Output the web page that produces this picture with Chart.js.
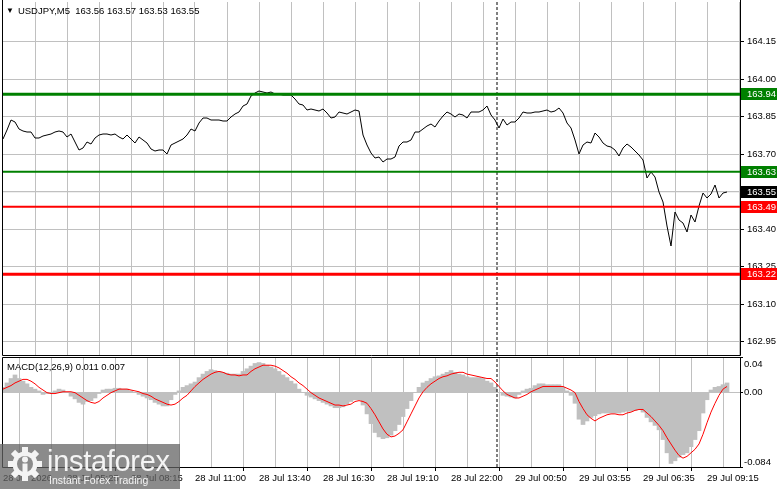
<!DOCTYPE html>
<html>
<head>
<meta charset="utf-8">
<title>USDJPY M5</title>
<script src="https://cdn.jsdelivr.net/npm/chart.js@4.4.1/dist/chart.umd.min.js"></script>
<style>
  html, body { margin: 0; padding: 0; background: #fff; }
  #wrap { position: relative; width: 781px; height: 489px; overflow: hidden; font-family: "Liberation Sans", Arial, sans-serif; }
  #priceCanvas { position: absolute; left: 0; top: 0; }
  #macdCanvas { position: absolute; left: 0; top: 356px; }
  #title { position: absolute; left: 6px; top: 5px; font-size: 9.5px; white-space: pre; color: #000; }
  #title .tri { font-size: 8px; margin-right: 4px; position: relative; top: -1px; }
  #macdLabel { position: absolute; left: 7px; top: 361px; font-size: 9.5px; white-space: pre; color: #000; }
  #logo { position: absolute; left: 0; top: 444px; width: 180px; height: 45px; background: rgba(100, 100, 100, 0.75); color: #f4f4f4; }
  #logo svg { position: absolute; left: 7px; top: 2px; }
  #logo .big { position: absolute; left: 47px; top: 1px; font-size: 29px; letter-spacing: -0.3px; }
  #logo .small { position: absolute; left: 49px; top: 30px; font-size: 10.5px; }
</style>
</head>
<body>
<div id="wrap">
  <canvas id="priceCanvas" width="781" height="357"></canvas>
  <canvas id="macdCanvas" width="781" height="133"></canvas>
  <div id="title"><span class="tri">▼</span>USDJPY,M5  163.56 163.57 163.53 163.55</div>
  <div id="macdLabel">MACD(12,26,9) 0.011 0.007</div>
  <div id="logo">
    <svg width="36" height="36" viewBox="0 0 36 36">
      <g fill="#f4f4f4">
        <circle cx="18" cy="18" r="12.5"/>
        <rect x="15" y="1" width="6" height="7"/>
        <rect x="15" y="1" width="6" height="7" transform="rotate(45 18 18)"/>
        <rect x="15" y="1" width="6" height="7" transform="rotate(90 18 18)"/>
        <rect x="15" y="1" width="6" height="7" transform="rotate(135 18 18)"/>
        <rect x="15" y="1" width="6" height="7" transform="rotate(180 18 18)"/>
        <rect x="15" y="1" width="6" height="7" transform="rotate(225 18 18)"/>
        <rect x="15" y="1" width="6" height="7" transform="rotate(270 18 18)"/>
        <rect x="15" y="1" width="6" height="7" transform="rotate(315 18 18)"/>
      </g>
      <circle cx="18" cy="18" r="8" fill="#8b8b8b"/>
      <circle cx="18" cy="13.5" r="3" fill="#f4f4f4"/>
      <rect x="15.5" y="17.5" width="5" height="13" fill="#f4f4f4"/>
    </svg>
    <span class="big">instaforex</span>
    <span class="small">Instant Forex Trading</span>
  </div>
</div>
<script>
// M5 closes, one value every 2 bars
const closes = [
  163.761, 163.797, 163.837, 163.829, 163.801, 163.793, 163.789, 163.789, 163.765, 163.765,
  163.773, 163.777, 163.781, 163.789, 163.793, 163.789, 163.769, 163.781, 163.749, 163.717,
  163.725, 163.749, 163.741, 163.765, 163.777, 163.781, 163.781, 163.777, 163.781, 163.769,
  163.761, 163.777, 163.761, 163.745, 163.769, 163.757, 163.745, 163.721, 163.713, 163.717,
  163.717, 163.701, 163.737, 163.745, 163.753, 163.761, 163.777, 163.801, 163.793, 163.825,
  163.845, 163.845, 163.837, 163.837, 163.837, 163.833, 163.833, 163.849, 163.861, 163.869,
  163.893, 163.901, 163.933, 163.945, 163.953, 163.949, 163.945, 163.949, 163.941, 163.941,
  163.937, 163.937, 163.937, 163.921, 163.901, 163.897, 163.877, 163.881, 163.877, 163.873,
  163.881, 163.865, 163.845, 163.849, 163.869, 163.865, 163.861, 163.869, 163.877, 163.873,
  163.777, 163.737, 163.705, 163.685, 163.689, 163.669, 163.681, 163.681, 163.689, 163.733,
  163.749, 163.749, 163.757, 163.789, 163.789, 163.801, 163.813, 163.821, 163.809, 163.833,
  163.853, 163.869, 163.861, 163.849, 163.861, 163.857, 163.845, 163.869, 163.869, 163.869,
  163.877, 163.893, 163.857, 163.837, 163.805, 163.841, 163.817, 163.829, 163.829, 163.845,
  163.869, 163.865, 163.865, 163.869, 163.869, 163.873, 163.877, 163.869, 163.873, 163.885,
  163.865, 163.825, 163.805, 163.757, 163.701, 163.737, 163.749, 163.745, 163.785, 163.769,
  163.745, 163.733, 163.729, 163.717, 163.693, 163.725, 163.741, 163.729, 163.713, 163.697,
  163.677, 163.605, 163.629, 163.609, 163.549, 163.509, 163.413, 163.333, 163.469, 163.437,
  163.425, 163.389, 163.457, 163.429, 163.493, 163.545, 163.525, 163.541, 163.577, 163.525,
  163.545, 163.549
];

const macdMain = [
  0.006, 0.011, 0.016, 0.020, 0.016, 0.013, 0.010, 0.006, 0.004, 0.002,
  -0.002, -0.001, 0.000, 0.002, 0.004, 0.003, 0.000, -0.004, -0.007, -0.011,
  -0.013, -0.010, -0.009, -0.006, -0.001, 0.003, 0.004, 0.004, 0.005, 0.005,
  0.004, 0.004, 0.002, 0.000, -0.002, -0.004, -0.006, -0.008, -0.011, -0.013,
  -0.015, -0.015, -0.008, -0.002, 0.002, 0.006, 0.008, 0.010, 0.012, 0.017,
  0.021, 0.024, 0.026, 0.025, 0.024, 0.023, 0.022, 0.021, 0.021, 0.021,
  0.024, 0.027, 0.030, 0.033, 0.034, 0.033, 0.031, 0.029, 0.027, 0.024,
  0.020, 0.017, 0.013, 0.010, 0.004, 0.000, -0.003, -0.005, -0.007, -0.009,
  -0.011, -0.013, -0.015, -0.017, -0.017, -0.016, -0.013, -0.010, -0.008, -0.008,
  -0.014, -0.024, -0.035, -0.045, -0.050, -0.052, -0.051, -0.048, -0.043, -0.036,
  -0.027, -0.018, -0.009, 0.000, 0.006, 0.011, 0.013, 0.016, 0.018, 0.019,
  0.021, 0.023, 0.025, 0.023, 0.021, 0.020, 0.018, 0.017, 0.017, 0.017,
  0.016, 0.013, 0.011, 0.006, 0.000, -0.003, -0.004, -0.005, -0.006, -0.002,
  0.002, 0.004, 0.005, 0.008, 0.010, 0.010, 0.009, 0.009, 0.009, 0.009,
  0.006, 0.002, -0.003, -0.012, -0.030, -0.036, -0.032, -0.028, -0.026, -0.024,
  -0.023, -0.023, -0.023, -0.023, -0.023, -0.022, -0.021, -0.021, -0.020, -0.019,
  -0.022, -0.028, -0.033, -0.037, -0.042, -0.053, -0.068, -0.080, -0.077, -0.073,
  -0.070, -0.068, -0.061, -0.053, -0.043, -0.023, -0.008, 0.003, 0.006, 0.007,
  0.009, 0.011
];

const macdSignal = [
  0.004, 0.006, 0.008, 0.011, 0.013, 0.015, 0.015, 0.013, 0.010, 0.006,
  0.003, 0.000, -0.001, -0.001, 0.000, 0.001, 0.001, 0.001, 0.000, -0.003,
  -0.006, -0.009, -0.011, -0.012, -0.010, -0.006, -0.003, 0.000, 0.002, 0.004,
  0.004, 0.004, 0.003, 0.002, 0.001, -0.001, -0.002, -0.004, -0.007, -0.009,
  -0.011, -0.013, -0.014, -0.013, -0.010, -0.006, -0.003, 0.002, 0.007, 0.011,
  0.015, 0.018, 0.021, 0.023, 0.024, 0.023, 0.021, 0.020, 0.020, 0.019,
  0.020, 0.020, 0.024, 0.027, 0.029, 0.031, 0.031, 0.031, 0.030, 0.028,
  0.025, 0.022, 0.018, 0.015, 0.011, 0.008, 0.004, 0.000, -0.003, -0.006,
  -0.008, -0.010, -0.012, -0.014, -0.014, -0.015, -0.014, -0.013, -0.010, -0.009,
  -0.010, -0.012, -0.018, -0.025, -0.033, -0.041, -0.047, -0.050, -0.049, -0.046,
  -0.042, -0.033, -0.024, -0.015, -0.006, 0.001, 0.006, 0.010, 0.013, 0.016,
  0.018, 0.019, 0.021, 0.022, 0.023, 0.023, 0.021, 0.020, 0.019, 0.018,
  0.017, 0.016, 0.016, 0.012, 0.007, 0.002, -0.002, -0.004, -0.006, -0.006,
  -0.004, -0.002, 0.001, 0.003, 0.005, 0.007, 0.007, 0.007, 0.007, 0.007,
  0.007, 0.005, 0.003, 0.000, -0.010, -0.018, -0.025, -0.029, -0.032, -0.029,
  -0.027, -0.025, -0.024, -0.024, -0.025, -0.025, -0.023, -0.022, -0.020, -0.019,
  -0.019, -0.023, -0.027, -0.032, -0.037, -0.043, -0.051, -0.058, -0.065, -0.071,
  -0.074, -0.072, -0.068, -0.064, -0.058, -0.047, -0.034, -0.022, -0.012, -0.003,
  0.004, 0.007
];

const timeLabels = [
  "28 Jul 2026", "28 Jul 05:25", "28 Jul 08:15", "28 Jul 11:00", "28 Jul 13:40", "28 Jul 16:30",
  "28 Jul 19:10", "28 Jul 22:00", "29 Jul 00:50", "29 Jul 03:55", "29 Jul 06:35", "29 Jul 09:15"
];
const priceTicks = [162.95, 163.10, 163.25, 163.40, 163.55, 163.70, 163.85, 164.00, 164.15];
const macdTicks = [0.04, 0.00, -0.084];
const macdTickLabels = ["0.04", "0.00", "-0.084"];
const levelValues = [163.94, 163.63, 163.49, 163.22];
const currentPrice = 163.55;
const separatorBar = 247;

// layout / style
const BAR_STEP = 2;
const TICK_STEP = 16;
const X_MIN = -0.5, X_MAX = 368.5;
const PRICE_MIN = 162.897, PRICE_MAX = 164.309;
const MACD_MIN = -0.084, MACD_MAX = 0.0403;
const GRID = "#c0c0c0";
const DASH = [4, 3];
const FONT = { family: "Liberation Sans", size: 9.5 };
const levelColors = ["#008000", "#008000", "#ff0000", "#ff0000"];
const levelWidths = [3, 2, 2, 3];
const NONE = "rgba(0,0,0,0)";

Chart.defaults.font.family = FONT.family;
Chart.defaults.font.size = FONT.size;
Chart.defaults.color = "#000";

function barTicks(scale) {
  scale.ticks = [];
  for (let b = 0; b <= X_MAX; b += TICK_STEP) scale.ticks.push({ value: b });
}

// fixed axis sizes, no extra label padding around the plot
function fixSize(w, h) {
  return s => {
    if (w !== null) s.width = w;
    if (h !== null) s.height = h;
    s.paddingTop = 0; s.paddingBottom = 0; s.paddingLeft = 0; s.paddingRight = 0;
  };
}

const framePlugin = {
  id: "frame",
  afterDraw(chart, args, opts) {
    const { ctx, chartArea: a } = chart;
    const l = Math.round(a.left) + 0.5, r = Math.round(a.right) + 0.5;
    const t = Math.round(a.top) + 0.5, b = Math.round(a.bottom) + 0.5;
    ctx.save();
    ctx.strokeStyle = "#000";
    ctx.lineWidth = 1;
    ctx.beginPath();
    ctx.moveTo(l, opts.top ? t : 0);
    ctx.lineTo(l, b);
    ctx.lineTo(r, b);
    ctx.lineTo(r, opts.top ? t : 0);
    if (opts.top) ctx.lineTo(l, t);
    ctx.stroke();
    ctx.restore();
  }
};

const priceBoxPlugin = {
  id: "priceBoxes",
  afterDraw(chart) {
    const { ctx, chartArea: a } = chart;
    const y = chart.scales.y;
    const vals = levelValues.concat([currentPrice]);
    const cols = levelColors.concat(["#000"]);
    ctx.save();
    ctx.font = FONT.size + "px \"" + FONT.family + "\"";
    ctx.textBaseline = "middle";
    vals.forEach((v, i) => {
      const py = Math.round(y.getPixelForValue(v));
      ctx.fillStyle = cols[i];
      ctx.fillRect(a.right + 1, py - 6, 36, 12);
      ctx.fillStyle = "#fff";
      ctx.fillText(v.toFixed(2), a.right + 7, py);
    });
    ctx.restore();
  }
};

const macdAxisPlugin = {
  id: "macdAxis",
  afterDraw(chart) {
    const { ctx, chartArea: a } = chart;
    const y = chart.scales.y;
    ctx.save();
    ctx.font = FONT.size + "px \"" + FONT.family + "\"";
    ctx.textBaseline = "middle";
    ctx.fillStyle = "#000";
    macdTicks.forEach((v, i) => {
      let py = y.getPixelForValue(v);
      py = Math.min(Math.max(py, a.top + 7), a.bottom - 5);
      ctx.fillText(macdTickLabels[i], a.right + 4, py);
    });
    ctx.restore();
  }
};

const xs = closes.map((_, i) => i * BAR_STEP);
const flat = v => [{ x: X_MIN, y: v }, { x: X_MAX, y: v }];

const priceDatasets = levelValues.map((v, i) => ({
  data: flat(v),
  borderColor: levelColors[i],
  borderWidth: levelWidths[i],
  pointRadius: 0,
  order: 0
}));
priceDatasets.push({
  data: closes.map((v, i) => ({ x: xs[i], y: v })),
  borderColor: "#000",
  borderWidth: 1,
  pointRadius: 0,
  tension: 0,
  order: 1
});
priceDatasets.push({
  data: flat(currentPrice),
  borderColor: GRID,
  borderWidth: 1,
  pointRadius: 0,
  order: 2
});
priceDatasets.push({
  data: [{ x: separatorBar, y: PRICE_MIN }, { x: separatorBar, y: PRICE_MAX }],
  borderColor: "#000",
  borderWidth: 1,
  borderDash: [3, 2],
  pointRadius: 0,
  order: 3
});

new Chart(document.getElementById("priceCanvas"), {
  type: "line",
  data: { datasets: priceDatasets },
  options: {
    responsive: false,
    devicePixelRatio: 1,
    animation: false,
    events: [],
    layout: { padding: { left: 2, top: 2, right: 0, bottom: 2 } },
    plugins: { legend: { display: false }, tooltip: { enabled: false }, frame: { top: false } },
    scales: {
      x: {
        type: "linear",
        min: X_MIN,
        max: X_MAX,
        afterBuildTicks: barTicks,
        afterFit: fixSize(null, 0),
        ticks: { display: false },
        border: { display: false },
        grid: {
          drawTicks: false,
          color: c => (c.tick && c.tick.value === 0 ? NONE : GRID),
          borderDash: DASH
        }
      },
      y: {
        position: "right",
        min: PRICE_MIN,
        max: PRICE_MAX,
        afterBuildTicks: s => { s.ticks = priceTicks.map(v => ({ value: v })); },
        afterFit: fixSize(41, null),
        ticks: { padding: 3, callback: v => v.toFixed(2) },
        border: { display: false },
        grid: {
          color: GRID,
          borderDash: DASH,
          tickLength: 4,
          tickColor: "#000",
          tickBorderDash: []
        }
      }
    }
  },
  plugins: [framePlugin, priceBoxPlugin]
});

new Chart(document.getElementById("macdCanvas"), {
  type: "bar",
  data: {
    datasets: [
      {
        type: "line",
        data: macdSignal.map((v, i) => ({ x: xs[i], y: v })),
        borderColor: "#ff0000",
        borderWidth: 1,
        pointRadius: 0,
        tension: 0,
        order: 0
      },
      {
        type: "line",
        data: [{ x: separatorBar, y: MACD_MIN }, { x: separatorBar, y: MACD_MAX }],
        borderColor: "#000",
        borderWidth: 1,
        borderDash: [3, 2],
        pointRadius: 0,
        order: 1
      },
      {
        type: "bar",
        data: macdMain.map((v, i) => ({ x: xs[i], y: v })),
        backgroundColor: "#c0c0c0",
        borderWidth: 0,
        barPercentage: 1,
        categoryPercentage: 1,
        order: 2
      }
    ]
  },
  options: {
    responsive: false,
    devicePixelRatio: 1,
    animation: false,
    events: [],
    layout: { padding: { left: 2, top: 1, right: 0, bottom: 0 } },
    plugins: { legend: { display: false }, tooltip: { enabled: false }, frame: { top: true } },
    scales: {
      x: {
        type: "linear",
        offset: false,
        min: X_MIN,
        max: X_MAX,
        afterBuildTicks: barTicks,
        afterFit: fixSize(null, 22),
        ticks: {
          autoSkip: false,
          maxRotation: 0,
          minRotation: 0,
          align: "start",
          padding: 2,
          callback: (v, i) => (i % 2 === 0 ? (timeLabels[i / 2] || "") : "")
        },
        border: { display: false },
        grid: {
          color: c => (c.tick && c.tick.value === 0 ? NONE : GRID),
          borderDash: DASH,
          tickLength: 4,
          tickColor: c => (c.index % 2 === 0 ? "#000" : NONE),
          tickBorderDash: []
        }
      },
      y: {
        position: "right",
        min: MACD_MIN,
        max: MACD_MAX,
        afterBuildTicks: s => { s.ticks = macdTicks.map(v => ({ value: v })); },
        afterFit: fixSize(41, null),
        ticks: { display: false },
        border: { display: false },
        grid: {
          color: c => (c.tick && c.tick.value === 0 ? GRID : NONE),
          borderDash: DASH,
          tickLength: 3,
          tickColor: "#000",
          tickBorderDash: []
        }
      }
    }
  },
  plugins: [framePlugin, macdAxisPlugin]
});
</script>
</body>
</html>
